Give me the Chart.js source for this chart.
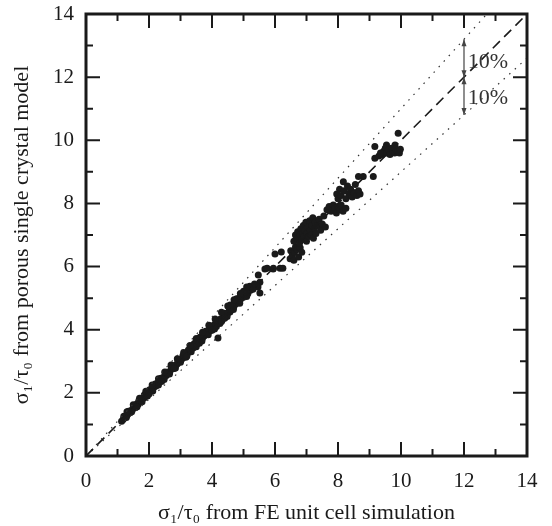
<!DOCTYPE html>
<html>
<head>
<meta charset="utf-8">
<script src="https://cdn.jsdelivr.net/npm/chart.js@4/dist/chart.umd.min.js"></script>
<style>
html,body{margin:0;padding:0;background:#fff;}
#wrap{width:552px;height:526px;}
</style>
</head>
<body>
<div id="wrap"><canvas id="c" width="552" height="526"></canvas></div>
<script>
// ---- data ----
const xTitle = "σ₁/τ₀ from FE unit cell simulation";
const yTitle = "σ₁/τ₀ from porous single crystal model";
const tickValues = [0, 2, 4, 6, 8, 10, 12, 14];
const bandLabels = ["10%", "10%"];

const simX = [
1.13,1.18,1.22,1.25,1.30,1.33,1.36,1.40,1.42,1.47,1.50,1.54,1.57,1.60,1.63,1.66,1.70,1.73,1.76,1.80,1.83,1.86,1.90,1.93,1.96,2.00,
2.04,2.08,2.10,2.14,2.18,2.22,2.25,2.28,2.32,2.36,2.40,2.43,2.47,2.50,2.55,2.58,2.62,2.66,2.70,2.74,2.78,2.82,2.86,2.90,2.95,2.98,3.02,3.06,3.10,3.14,3.18,3.22,3.26,3.30,
3.33,3.36,3.40,3.42,3.45,3.48,3.52,3.55,3.58,3.60,3.63,3.66,3.70,3.72,3.75,3.78,3.80,3.84,3.86,3.90,3.93,3.96,4.00,4.03,4.06,4.10,4.14,4.18,4.19,4.22,4.25,4.28,4.32,4.36,4.40,4.45,4.50,
4.55,4.57,4.60,4.63,4.66,4.70,4.72,4.76,4.80,4.84,4.86,4.90,4.94,4.98,5.02,5.05,5.10,5.14,5.18,5.22,5.27,5.47,5.52,5.46,5.52,5.40,
5.68,5.75,5.94,5.95,6.16,6.25,6.00,6.20,6.50,6.48,6.55,6.60,6.62,6.70,6.65,6.75,6.80,6.85,
6.60,6.65,6.70,6.72,6.78,6.80,6.82,6.85,6.88,6.90,6.92,6.95,6.98,7.00,7.02,7.05,7.08,7.10,7.12,7.15,7.18,7.20,7.22,7.25,7.28,7.30,7.35,7.40,7.45,7.50,7.55,7.60,
7.65,7.72,7.78,7.85,7.90,7.95,8.00,8.05,8.10,8.16,8.25,
7.96,8.00,8.05,8.10,8.17,8.20,8.25,8.30,8.35,8.40,8.45,8.50,8.55,8.60,8.65,8.70,8.80,9.12,8.65,
9.17,9.17,9.54,9.81,9.91,9.40,9.45,9.50,9.55,9.60,9.65,9.70,9.75,9.80,9.85,9.90,9.95,9.30,9.35,9.98,
1.20,1.28,1.35,1.45,1.52,1.62,1.68,1.78,1.85,1.95,2.02,2.12,2.20,2.30,2.38,2.48,2.56,2.65,2.72,2.84,2.92,3.00,3.08,3.17,3.25,3.34,3.44,3.50,3.62,3.68,3.80,3.88,3.98,4.08,4.16,4.30,4.40,4.48,4.58,4.68,4.78,4.88,5.00,5.10,5.20,5.30,5.35,
1.30,1.50,1.70,1.90,2.10,2.30,2.50,2.70,2.90,3.10,3.30,3.50,3.70,3.90,4.10,4.30,4.50,4.70,4.90,5.10,
1.60,2.00,2.40,2.80,3.20,3.60,4.00,4.40
];
const modelY = [
1.10,1.16,1.21,1.26,1.28,1.33,1.38,1.37,1.43,1.46,1.52,1.55,1.54,1.62,1.66,1.64,1.72,1.75,1.74,1.83,1.84,1.85,1.93,1.92,1.98,2.02,
2.05,2.12,2.07,2.17,2.20,2.22,2.30,2.27,2.36,2.38,2.41,2.47,2.48,2.54,2.55,2.62,2.64,2.66,2.75,2.76,2.80,2.87,2.88,2.92,2.99,3.02,3.04,3.10,3.13,3.16,3.22,3.24,3.30,3.33,
3.40,3.45,3.42,3.52,3.48,3.58,3.55,3.65,3.60,3.72,3.68,3.78,3.74,3.85,3.80,3.92,3.86,3.95,3.88,4.00,3.96,4.06,4.02,4.12,4.08,4.18,4.10,4.22,3.74,4.28,4.20,4.35,4.30,4.40,4.36,4.48,4.52,
4.62,4.56,4.70,4.66,4.78,4.74,4.86,4.82,4.92,4.88,5.00,4.96,5.05,5.02,5.12,5.08,5.20,5.15,5.28,5.25,5.33,5.73,5.50,5.35,5.16,5.40,
5.92,5.95,5.92,5.95,5.95,5.95,6.40,6.46,6.50,6.25,6.35,6.20,6.45,6.55,6.62,6.30,6.60,6.45,
6.80,7.00,6.90,7.10,6.75,7.00,7.20,6.85,7.05,7.30,6.95,7.15,7.40,6.80,7.05,7.25,6.95,7.45,7.15,7.00,7.30,7.55,6.90,7.20,7.40,7.05,7.30,7.50,7.15,7.35,7.60,7.25,
7.80,7.90,7.75,7.95,7.85,7.70,7.90,7.80,7.95,7.75,7.85,
8.30,8.15,8.45,8.25,8.69,8.40,8.15,8.55,8.30,8.45,8.20,8.35,8.60,8.25,8.40,8.30,8.85,8.85,8.85,
9.80,9.43,9.85,9.85,10.22,9.55,9.65,9.75,9.60,9.70,9.55,9.75,9.65,9.60,9.70,9.65,9.60,9.50,9.60,9.72,
1.26,1.22,1.42,1.40,1.60,1.56,1.76,1.72,1.93,1.90,2.10,2.06,2.28,2.25,2.46,2.42,2.65,2.60,2.82,2.79,3.02,2.97,3.18,3.13,3.36,3.30,3.56,3.46,3.76,3.64,3.95,3.84,4.12,4.02,4.30,4.26,4.52,4.42,4.78,4.64,4.98,4.84,5.22,5.05,5.38,5.28,5.45,
1.40,1.62,1.83,2.05,2.25,2.45,2.66,2.88,3.08,3.28,3.50,3.72,3.92,4.14,4.34,4.55,4.75,4.95,5.15,5.35,
1.55,1.96,2.36,2.77,3.16,3.57,3.98,4.38
];
// reference lines: y = x, y = 1.1x, y = 0.9x
const equalLineX = [0, 14];
const equalLineY = [0, 14];
const upperBandX = [0, 12.727];
const upperBandY = [0, 14];
const lowerBandX = [0, 14];
const lowerBandY = [0, 12.6];
// 10% arrow marker at x = 12
const arrowX = 12;
const arrowYs = [10.8, 12, 13.2];
const bandLabelPos = [[12.12, 12.47], [12.12, 11.34]];

const pts = simX.map((x, i) => ({x: x, y: modelY[i]}));
const toXY = (xs, ys) => xs.map((x, i) => ({x: x, y: ys[i]}));

const SERIF = '"Liberation Serif", "DejaVu Serif", serif';

const framePlugin = {
  id: 'frame',
  afterDatasetsDraw(chart) {
    const ctx = chart.ctx;
    const xs = chart.scales.x, ys = chart.scales.y;
    const a = chart.chartArea;
    ctx.save();
    ctx.strokeStyle = '#1a1a1a';
    ctx.lineWidth = 2;
    for (let v = 0; v <= 14; v += 1) {
      const major = v % 2 === 0;
      const L = major ? 14 : 7;
      const px = xs.getPixelForValue(v);
      const py = ys.getPixelForValue(v);
      ctx.beginPath();
      ctx.moveTo(px, a.bottom); ctx.lineTo(px, a.bottom - L);
      ctx.moveTo(px, a.top); ctx.lineTo(px, a.top + L);
      ctx.moveTo(a.left, py); ctx.lineTo(a.left + L, py);
      ctx.moveTo(a.right, py); ctx.lineTo(a.right - L, py);
      ctx.stroke();
    }
    ctx.lineWidth = 3;
    ctx.strokeRect(a.left, a.top, a.right - a.left, a.bottom - a.top);

    const ax = xs.getPixelForValue(arrowX);
    const yLow = ys.getPixelForValue(arrowYs[0]);
    const yMid = ys.getPixelForValue(arrowYs[1]);
    const yHigh = ys.getPixelForValue(arrowYs[2]);
    ctx.strokeStyle = '#444';
    ctx.fillStyle = '#444';
    ctx.lineWidth = 1.2;
    ctx.beginPath();
    ctx.moveTo(ax, yHigh); ctx.lineTo(ax, yLow);
    ctx.stroke();
    const head = (y, dir) => {
      ctx.beginPath();
      ctx.moveTo(ax, y);
      ctx.lineTo(ax - 2.5, y - dir * 7);
      ctx.lineTo(ax + 2.5, y - dir * 7);
      ctx.closePath();
      ctx.fill();
    };
    head(yHigh, -1);
    head(yMid, 1);
    head(yMid, -1);
    head(yLow, 1);
    ctx.fillStyle = '#333';
    ctx.font = '22px ' + SERIF;
    ctx.textAlign = 'left';
    ctx.textBaseline = 'middle';
    bandLabelPos.forEach((p, i) => {
      ctx.fillText(bandLabels[i], xs.getPixelForValue(p[0]), ys.getPixelForValue(p[1]));
    });
    ctx.restore();
  }
};

new Chart(document.getElementById('c'), {
  type: 'scatter',
  data: {
    datasets: [
      {
        label: 'y = x', type: 'line',
        data: toXY(equalLineX, equalLineY),
        borderColor: '#1a1a1a', borderWidth: 1.6, borderDash: [10, 6],
        pointRadius: 0, fill: false, order: 0
      },
      {
        label: '+10%', type: 'line',
        data: toXY(upperBandX, upperBandY),
        borderColor: '#333', borderWidth: 1.2, borderDash: [1.5, 6],
        pointRadius: 0, fill: false, order: 0
      },
      {
        label: '-10%', type: 'line',
        data: toXY(lowerBandX, lowerBandY),
        borderColor: '#333', borderWidth: 1.2, borderDash: [1.5, 6],
        pointRadius: 0, fill: false, order: 0
      },
      {
        label: 'unit cells',
        data: pts,
        backgroundColor: '#1a1a1a', borderColor: '#1a1a1a', borderWidth: 0,
        pointRadius: 3.5, order: 1
      }
    ]
  },
  options: {
    responsive: false,
    animation: false,
    devicePixelRatio: 1,
    layout: {padding: {top: 14, right: 25, left: 0, bottom: 0}},
    plugins: {legend: {display: false}, tooltip: {enabled: false}},
    scales: {
      x: {
        type: 'linear', min: 0, max: 14,
        afterFit: s => { s.height = 70; s.paddingLeft = 0; s.paddingRight = 0; },
        afterBuildTicks: s => { s.ticks = tickValues.map(v => ({value: v})); },
        grid: {display: false, drawTicks: false},
        border: {display: false},
        ticks: {color: '#1a1a1a', font: {family: SERIF, size: 21}, padding: 13, maxRotation: 0},
        title: {display: true, text: xTitle, color: '#1a1a1a', font: {family: SERIF, size: 22}, padding: {top: 0, bottom: 0}}
      },
      y: {
        type: 'linear', min: 0, max: 14,
        afterFit: s => { s.width = 86; s.paddingTop = 0; s.paddingBottom = 0; },
        afterBuildTicks: s => { s.ticks = tickValues.map(v => ({value: v})); },
        grid: {display: false, drawTicks: false},
        border: {display: false},
        ticks: {color: '#1a1a1a', font: {family: SERIF, size: 21}, padding: 12},
        title: {display: true, text: yTitle, color: '#1a1a1a', font: {family: SERIF, size: 22}, padding: {top: 9, bottom: 0}}
      }
    }
  },
  plugins: [framePlugin]
});
</script>
</body>
</html>
